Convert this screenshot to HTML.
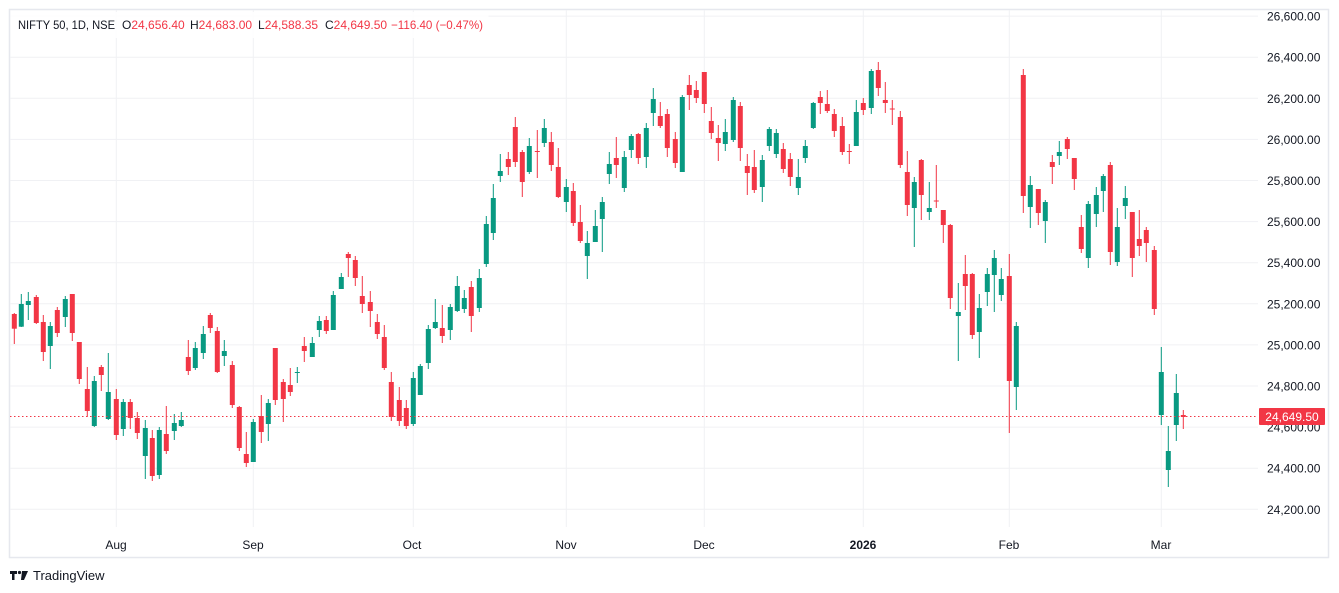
<!DOCTYPE html>
<html><head><meta charset="utf-8">
<style>
html,body{margin:0;padding:0;background:#fff;width:1339px;height:593px;overflow:hidden;font-family:"Liberation Sans",sans-serif;}
svg{position:absolute;left:0;top:0}
</style></head>
<body>
<svg width="1339" height="593" viewBox="0 0 1339 593" xmlns="http://www.w3.org/2000/svg" font-family="Liberation Sans, sans-serif">
<rect x="9.5" y="9.5" width="1319" height="548" fill="#fff" stroke="#e6e8ee" stroke-width="1.5"/>
<g id="grid" stroke="#f0f1f4" stroke-width="1"></g>
<g id="candles"></g>
<line x1="10" y1="416.5" x2="1258" y2="416.5" stroke="#f23645" stroke-width="1" stroke-dasharray="1.5,2.5"/>
<g id="plabels" font-size="12" fill="#131722"></g>
<rect x="1259" y="408" width="66" height="17" rx="1" fill="#f23645"/>
<text x="1292" y="421" font-size="12" fill="#fff" text-anchor="middle">24,649.50</text>
<g font-size="12" fill="#131722" text-anchor="middle">
<text x="116" y="549">Aug</text>
<text x="253" y="549">Sep</text>
<text x="412" y="549">Oct</text>
<text x="566" y="549">Nov</text>
<text x="704" y="549">Dec</text>
<text x="863" y="549" font-weight="bold">2026</text>
<text x="1009" y="549">Feb</text>
<text x="1161" y="549">Mar</text>
</g>
<rect x="10.5" y="12" width="478" height="26" fill="#fff" opacity="0.85"/>
<g font-size="12" fill="#131722">
<text x="18" y="29" textLength="97" lengthAdjust="spacingAndGlyphs">NIFTY 50, 1D, NSE</text>
<text x="122" y="29">O<tspan fill="#f23645">24,656.40</tspan></text>
<text x="190" y="29">H<tspan fill="#f23645">24,683.00</tspan></text>
<text x="258" y="29">L<tspan fill="#f23645">24,588.35</tspan></text>
<text x="325" y="29">C<tspan fill="#f23645">24,649.50</tspan></text>
<text x="391" y="29" fill="#f23645" textLength="92" lengthAdjust="spacingAndGlyphs">−116.40 (−0.47%)</text>
</g>
<g fill="#131722">
<path d="M10 571h7v3h-2.5v6h-2.5v-6h-2z"/>
<circle cx="19.5" cy="572.5" r="1.6"/>
<path d="M22 571h6l-4 9h-3z"/>
</g>
<text x="33" y="580" font-size="13" fill="#131722">TradingView</text>
</svg>
<script>
var D=[
[14.3,314,328.7,313,344,0],[21.3,304,326.7,294,327,1],[28.3,301,305,292,320,1],[36.3,297,323,295,324,0],[43.3,322,352,315,361,0],[50.3,326,346,322,369,1],[57.3,310,333,307,337,0],[65.3,299,317,296,327,1],[72.3,294,333,294,341,0],[79.3,342,379,342,384,0],
[87.3,389,411,367,417,0],[94.3,381,426,376,427,1],[101.3,367,375,365,391,0],[108.3,392,419,353,420,1],[116.3,399,435,389,440,0],[123.3,402,429,399,436,1],[130.3,402,418,399,429,0],[137.3,418,433,412,439,0],[145.3,428,456,420,479,1],[152.3,438,476,430,481,0],
[159.3,430,475,427,479,1],[166.3,434,451,406,454,0],[174.3,423,431,414,440,1],[181.3,420,426,412,427,1],[188.3,357,371,340,375,0],[195.3,348,368,342,370,1],[203.3,334,353,326,359,1],[210.3,315,328,313,333,0],[217.3,331,372,327,373,0],[224.3,351,356,340,366,1],
[232.3,365,405,361,408,0],[239.3,407,448,406,451,0],[246.3,454,463,432,467,0],[253.3,422,462,419,462,1],[261.3,416,432,395,443,0],[268.3,403,424,399,441,1],[275.3,348,400,348,405,0],[283.3,382,399,379,422,0],[290.3,385,392,368,396,0],[297.3,372,373,367,383,1],
[304.3,346,351,337,362,0],[312.3,343,357,337,357,1],[319.3,321,330,316,337,1],[326.3,320,331,316,334,0],[333.3,295,330,291,330,1],[341.3,277,289,273,289,1],[348.3,254,258,252,277,0],[355.3,260,278,256,286,0],[362.3,296,304,276,313,0],[370.3,302,311,291,327,0],
[377.3,322,334,314,339,0],[384.3,337,368,325,370,0],[391.3,382,417,372,421,0],[399.3,400,421,387,426,0],[406.3,408,426,400,429,0],[413.3,378,424,372,426,1],[420.3,366,395,364,395,1],[428.3,329,363,325,369,1],[435.3,322,328,299,329,1],[442.3,328,336,305,343,0],
[450.3,307,330,304,340,1],[457.3,286,311,276,312,1],[464.3,298,309,290,313,1],[471.3,287,316,281,332,0],[479.3,278,308,269,312,1],[486.3,224,264,216,267,1],[493.3,198,233,184,240,1],[500.3,171,176,154,182,1],[508.3,159,167,152,175,0],[515.3,127,162,117,167,0],
[522.3,152,182,150,197,0],[529.3,146,172,138,174,1],[537.3,151,152,130,178,0],[544.3,128,143,119,147,1],[551.3,142,165,132,171,0],[558.3,167,197,148,198,0],[566.3,187,202,179,212,1],[573.3,191,223,183,226,0],[580.3,222,241,205,243,0],[587.3,243,256,231,279,1],
[595.3,226,242,210,242,1],[602.3,202,219,197,252,1],[609.3,164,174,152,184,1],[616.3,158,165,137,178,0],[624.3,157,188,151,192,1],[631.3,136,150,134,158,1],[638.3,134,158,133,164,0],[646.3,128,157,123,168,1],[653.3,99,113,88,126,1],[660.3,116,126,102,128,0],
[667.3,114,148,109,157,0],[675.3,139,163,132,168,0],[682.3,97,172,95,172,1],[689.3,85,95,75,110,0],[696.3,90,98,81,103,0],[704.3,72,104,72,113,0],[711.3,121,133,107,139,0],[718.3,138,143,125,161,0],[725.3,132,144,119,151,1],[733.3,100,140,97,142,1],
[740.3,106,148,102,161,0],[747.3,166,173,154,195,0],[754.3,167,190,150,193,0],[762.3,160,187,155,202,1],[769.3,129,146,127,151,1],[776.3,133,154,129,158,1],[783.3,149,169,143,173,0],[790.3,159,177,153,186,0],[798.3,177,188,159,195,1],[805.3,146,158,140,163,1],
[813.3,103,128,102,129,1],[820.3,97,103,91,114,0],[827.3,104,111,90,113,0],[834.3,114,131,109,137,0],[842.3,126,152,117,155,0],[849.3,151,152,144,164,0],[856.3,112,146,100,146,1],[863.3,103,110,98,115,0],[871.3,71,108,69,114,1],[878.3,70,88,62,96,0],
[885.3,100,103,82,113,0],[892.3,108.5,109.5,100,125,0],[900.3,117,165,111,168,0],[907.3,172,205,151,216,0],[914.3,182,208,177,247,1],[921.3,160,195,159,220,0],[929.3,208,212,182,220,1],[936.3,200.5,201.5,165,208,0],[943.3,210,225,210,243,0],[950.3,225,298,224,309,0],
[958.3,312,316,283,361,1],[965.3,274,286,255,310,0],[972.3,274,335,273,339,0],[979.3,308,332,294,358,1],[987.3,274,292,268,306,1],[994.3,258,275,250,312,1],[1001.3,279,295,268,301,1],[1009.3,276,381,254,433,0],[1016.3,326,387,322,410,1],[1023.3,75,196,69,213,0],
[1030.3,185,207,176,228,1],[1038.3,189,213,189,225,0],[1045.3,202,221,200,243,1],[1052.3,162,167,155,184,0],[1059.3,152,156,141,165,1],[1067.3,139,149,137,159,0],[1074.3,158,179,158,190,0],[1081.3,227,249,215,253,0],[1088.3,204,258,201,268,1],[1096.3,195,214,187,227,1],
[1103.3,176,191,174,212,1],[1110.3,165,252,162,265,0],[1117.3,227,262,208,266,1],[1125.3,198,206,186,219,1],[1132.3,212,258,212,277,0],[1139.3,239,246,210,256,0],[1146.3,230,243,227,262,0],[1154.3,250,309,246,315,0],[1161.3,372,415,347,425,1],[1168.3,451,470,426,487,1],
[1176.3,393,425,374,441,1],[1183.3,415,417,410,429,0]
];
var NS="http://www.w3.org/2000/svg";
function el(t,a,p){var e=document.createElementNS(NS,t);for(var k in a)e.setAttribute(k,a[k]);p.appendChild(e);return e;}
var g=document.getElementById('grid');
for(var i=0;i<=12;i++){var y=16.1+i*41.1;el('line',{x1:10,x2:1258,y1:y,y2:y},g);}
[116.3,253.3,413.3,566.3,704.3,863.3,1009.3,1161.3].forEach(function(x){el('line',{x1:x,x2:x,y1:10,y2:527},g);});
var pl=document.getElementById('plabels');
for(var i=0;i<=12;i++){var p=26600-i*200;var t=el('text',{x:1267,y:16.1+i*41.1+4.5},pl);t.textContent=p.toLocaleString('en-US')+'.00';}
var c=document.getElementById('candles');
D.forEach(function(d){var col=d[5]?'#089981':'#f23645';
el('rect',{x:d[0]-0.5,y:d[3],width:1,height:Math.max(1,d[4]-d[3]),fill:col},c);
el('rect',{x:d[0]-2.5,y:d[1],width:5,height:Math.max(1,d[2]-d[1]),fill:col},c);});
</script>
</body></html>
